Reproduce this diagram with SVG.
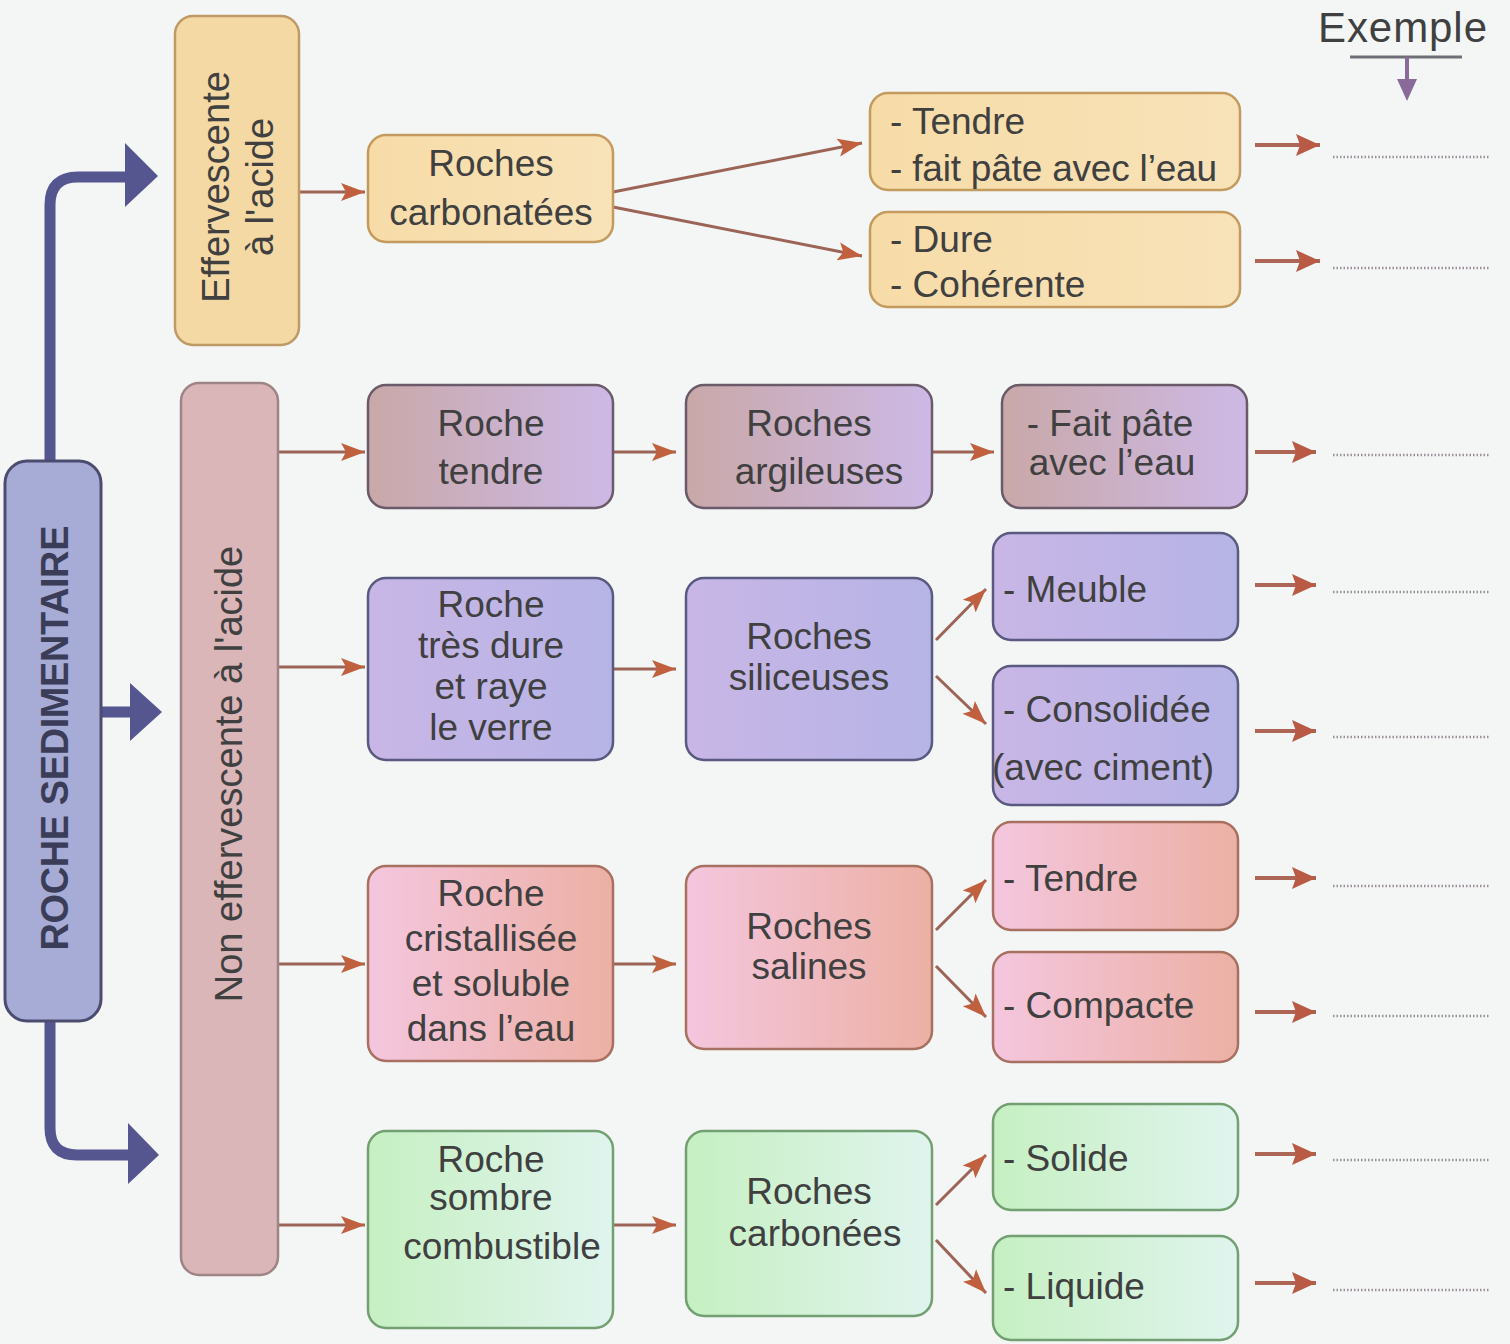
<svg xmlns="http://www.w3.org/2000/svg" width="1510" height="1344" viewBox="0 0 1510 1344">
  <style>
    .t { font-family: "Liberation Sans", Arial, sans-serif; font-size: 37px; fill: #404040; }
    .c { text-anchor: middle; }
    .ln { stroke: #9c6456; stroke-width: 3; fill: none; }
    .ex { stroke: #ad6655; stroke-width: 4; fill: none; }
    .dot { stroke: #9a8f9a; stroke-width: 2.5; stroke-dasharray: 1.5 2; fill: none; }
    .main { stroke: #555590; stroke-width: 11; fill: none; stroke-linejoin: round; }
    .head { fill: #555590; }
  </style>
  <defs>
    <marker id="ah" markerUnits="userSpaceOnUse" markerWidth="26" markerHeight="20" refX="24" refY="10" orient="auto">
      <path d="M0,1 L24,10 L0,19 L5,10 z" fill="#c0603e"/>
    </marker>
    <marker id="ah2" markerUnits="userSpaceOnUse" markerWidth="26" markerHeight="24" refX="24" refY="12" orient="auto">
      <path d="M0,1 L24,12 L0,23 L4,12 z" fill="#b85a44"/>
    </marker>
    <linearGradient id="gTan" x1="0" y1="0" x2="1" y2="0">
      <stop offset="0" stop-color="#f7dca8"/>
      <stop offset="1" stop-color="#f8e2b8"/>
    </linearGradient>
    <linearGradient id="gClay" x1="0" y1="0" x2="1" y2="0">
      <stop offset="0" stop-color="#c9a8a8"/>
      <stop offset="1" stop-color="#cdb9e6"/>
    </linearGradient>
    <linearGradient id="gSil" x1="0" y1="0" x2="1" y2="0">
      <stop offset="0" stop-color="#c8b6e6"/>
      <stop offset="1" stop-color="#b6b4e6"/>
    </linearGradient>
    <linearGradient id="gSalt" x1="0" y1="0" x2="1" y2="0">
      <stop offset="0" stop-color="#f4c6de"/>
      <stop offset="1" stop-color="#ecb0a4"/>
    </linearGradient>
    <linearGradient id="gCarb" x1="0" y1="0" x2="1" y2="0">
      <stop offset="0" stop-color="#c6f0c2"/>
      <stop offset="1" stop-color="#e0f4ee"/>
    </linearGradient>
  </defs>

  <rect width="1510" height="1344" fill="#f3f6f5"/>

  <!-- connectors -->
  <g id="connectors">
    <!-- main purple branches -->
    <path class="main" d="M50,465 V205 Q50,177 78,177 H130"/>
    <polygon class="head" points="125,143 158,176 125,207"/>
    <path class="main" d="M100,712 H135"/>
    <polygon class="head" points="130,683 162,712 130,741"/>
    <path class="main" d="M50,1018 V1128 Q50,1155 77,1155 H132"/>
    <polygon class="head" points="128,1123 159,1155 128,1184"/>

    <!-- carbonate branch -->
    <line class="ln" x1="299" y1="192" x2="365" y2="192" marker-end="url(#ah)"/>
    <line class="ln" x1="613" y1="192" x2="862" y2="143" marker-end="url(#ah)"/>
    <line class="ln" x1="613" y1="207" x2="862" y2="256" marker-end="url(#ah)"/>

    <!-- clay row -->
    <line class="ln" x1="278" y1="452" x2="365" y2="452" marker-end="url(#ah)"/>
    <line class="ln" x1="613" y1="452" x2="676" y2="452" marker-end="url(#ah)"/>
    <line class="ln" x1="932" y1="452" x2="994" y2="452" marker-end="url(#ah)"/>

    <!-- siliceous row -->
    <line class="ln" x1="278" y1="667" x2="365" y2="667" marker-end="url(#ah)"/>
    <line class="ln" x1="613" y1="669" x2="676" y2="669" marker-end="url(#ah)"/>
    <line class="ln" x1="936" y1="640" x2="986" y2="589" marker-end="url(#ah)"/>
    <line class="ln" x1="936" y1="676" x2="986" y2="724" marker-end="url(#ah)"/>

    <!-- saline row -->
    <line class="ln" x1="278" y1="964" x2="365" y2="964" marker-end="url(#ah)"/>
    <line class="ln" x1="613" y1="964" x2="676" y2="964" marker-end="url(#ah)"/>
    <line class="ln" x1="936" y1="930" x2="986" y2="880" marker-end="url(#ah)"/>
    <line class="ln" x1="936" y1="966" x2="986" y2="1017" marker-end="url(#ah)"/>

    <!-- carbon row -->
    <line class="ln" x1="278" y1="1225" x2="365" y2="1225" marker-end="url(#ah)"/>
    <line class="ln" x1="613" y1="1225" x2="676" y2="1225" marker-end="url(#ah)"/>
    <line class="ln" x1="936" y1="1205" x2="986" y2="1155" marker-end="url(#ah)"/>
    <line class="ln" x1="936" y1="1240" x2="986" y2="1293" marker-end="url(#ah)"/>

    <!-- example arrows and answer lines -->
    <line class="ex" x1="1255" y1="145" x2="1320" y2="145" marker-end="url(#ah2)"/>
    <line class="ex" x1="1255" y1="261" x2="1320" y2="261" marker-end="url(#ah2)"/>
    <line class="ex" x1="1255" y1="452" x2="1316" y2="452" marker-end="url(#ah2)"/>
    <line class="ex" x1="1255" y1="585" x2="1316" y2="585" marker-end="url(#ah2)"/>
    <line class="ex" x1="1255" y1="731" x2="1316" y2="731" marker-end="url(#ah2)"/>
    <line class="ex" x1="1255" y1="878" x2="1316" y2="878" marker-end="url(#ah2)"/>
    <line class="ex" x1="1255" y1="1012" x2="1316" y2="1012" marker-end="url(#ah2)"/>
    <line class="ex" x1="1255" y1="1154" x2="1316" y2="1154" marker-end="url(#ah2)"/>
    <line class="ex" x1="1255" y1="1283" x2="1316" y2="1283" marker-end="url(#ah2)"/>

    <line class="dot" x1="1333" y1="157" x2="1490" y2="157"/>
    <line class="dot" x1="1333" y1="268" x2="1490" y2="268"/>
    <line class="dot" x1="1333" y1="455" x2="1490" y2="455"/>
    <line class="dot" x1="1333" y1="592" x2="1490" y2="592"/>
    <line class="dot" x1="1333" y1="737" x2="1490" y2="737"/>
    <line class="dot" x1="1333" y1="886" x2="1490" y2="886"/>
    <line class="dot" x1="1333" y1="1016" x2="1490" y2="1016"/>
    <line class="dot" x1="1333" y1="1160" x2="1490" y2="1160"/>
    <line class="dot" x1="1333" y1="1290" x2="1490" y2="1290"/>
  </g>

  <!-- column header -->
  <g id="exemple">
    <text class="t" x="1318" y="42" style="font-size:42px" textLength="169">Exemple</text>
    <line x1="1350" y1="57" x2="1462" y2="57" stroke="#6f6f78" stroke-width="3"/>
    <line x1="1407" y1="57" x2="1407" y2="82" stroke="#8a6a9a" stroke-width="4"/>
    <polygon points="1397,79 1417,79 1407,101" fill="#8a6a9a"/>
  </g>

  <!-- root -->
  <g id="roche-sedimentaire">
    <rect x="5" y="461" width="96" height="560" rx="22" fill="#a7acd6" stroke="#4c4c70" stroke-width="3"/>
    <text class="t c" transform="translate(68,738) rotate(-90)" style="font-weight:bold;font-size:38px;fill:#3a3c58" textLength="425">ROCHE SEDIMENTAIRE</text>
  </g>

  <!-- acid test branches -->
  <g id="effervescente">
    <rect x="175" y="16" width="124" height="329" rx="18" fill="#f5d9a4" stroke="#bf9a66" stroke-width="2.5"/>
    <text class="t c" transform="translate(229,187) rotate(-90)" style="font-size:38px">Effervescente</text>
    <text class="t c" transform="translate(273,187) rotate(-90)" style="font-size:38px">à l'acide</text>
  </g>
  <g id="non-effervescente">
    <rect x="181" y="383" width="97" height="892" rx="18" fill="#dab6b9" stroke="#9e8486" stroke-width="2.5"/>
    <text class="t c" transform="translate(242,774) rotate(-90)" style="font-size:38px">Non effervescente à l'acide</text>
  </g>

  <!-- carbonate rocks -->
  <g id="roches-carbonatees">
    <rect x="368" y="135" width="245" height="107" rx="18" fill="url(#gTan)" stroke="#c49a5e" stroke-width="2.5"/>
    <text class="t c" x="491" y="176">Roches</text>
    <text class="t c" x="491" y="225">carbonatées</text>
  </g>
  <g id="carb-tendre">
    <rect x="870" y="93" width="370" height="97" rx="18" fill="url(#gTan)" stroke="#c49a5e" stroke-width="2.5"/>
    <text class="t" x="890" y="134">- Tendre</text>
    <text class="t" x="890" y="181" textLength="327">- fait pâte avec l’eau</text>
  </g>
  <g id="carb-dure">
    <rect x="870" y="212" width="370" height="95" rx="18" fill="url(#gTan)" stroke="#c49a5e" stroke-width="2.5"/>
    <text class="t" x="890" y="252">- Dure</text>
    <text class="t" x="890" y="297">- Cohérente</text>
  </g>

  <!-- clay rocks -->
  <g id="roche-tendre">
    <rect x="368" y="385" width="245" height="123" rx="18" fill="url(#gClay)" stroke="#6a5a6a" stroke-width="2.5"/>
    <text class="t c" x="491" y="436">Roche</text>
    <text class="t c" x="491" y="484">tendre</text>
  </g>
  <g id="roches-argileuses">
    <rect x="686" y="385" width="246" height="123" rx="18" fill="url(#gClay)" stroke="#6a5a6a" stroke-width="2.5"/>
    <text class="t c" x="809" y="436">Roches</text>
    <text class="t c" x="819" y="484">argileuses</text>
  </g>
  <g id="fait-pate">
    <rect x="1002" y="385" width="245" height="123" rx="18" fill="url(#gClay)" stroke="#6a5a6a" stroke-width="2.5"/>
    <text class="t c" x="1110" y="436">- Fait pâte</text>
    <text class="t c" x="1112" y="475">avec l’eau</text>
  </g>

  <!-- siliceous rocks -->
  <g id="roche-tres-dure">
    <rect x="368" y="578" width="245" height="182" rx="18" fill="url(#gSil)" stroke="#5a5a80" stroke-width="2.5"/>
    <text class="t c" x="491" y="617">Roche</text>
    <text class="t c" x="491" y="658">très dure</text>
    <text class="t c" x="491" y="699">et raye</text>
    <text class="t c" x="491" y="740">le verre</text>
  </g>
  <g id="roches-siliceuses">
    <rect x="686" y="578" width="246" height="182" rx="18" fill="url(#gSil)" stroke="#5a5a80" stroke-width="2.5"/>
    <text class="t c" x="809" y="649">Roches</text>
    <text class="t c" x="809" y="690">siliceuses</text>
  </g>
  <g id="meuble">
    <rect x="993" y="533" width="245" height="107" rx="18" fill="url(#gSil)" stroke="#5a5a80" stroke-width="2.5"/>
    <text class="t" x="1003" y="602">- Meuble</text>
  </g>
  <g id="consolidee">
    <rect x="993" y="666" width="245" height="139" rx="18" fill="url(#gSil)" stroke="#5a5a80" stroke-width="2.5"/>
    <text class="t" x="1003" y="722">- Consolidée</text>
    <text class="t" x="992" y="780">(avec ciment)</text>
  </g>

  <!-- saline rocks -->
  <g id="roche-cristallisee">
    <rect x="368" y="866" width="245" height="195" rx="18" fill="url(#gSalt)" stroke="#a87060" stroke-width="2.5"/>
    <text class="t c" x="491" y="906">Roche</text>
    <text class="t c" x="491" y="951">cristallisée</text>
    <text class="t c" x="491" y="996">et soluble</text>
    <text class="t c" x="491" y="1041">dans l’eau</text>
  </g>
  <g id="roches-salines">
    <rect x="686" y="866" width="246" height="183" rx="18" fill="url(#gSalt)" stroke="#a87060" stroke-width="2.5"/>
    <text class="t c" x="809" y="939">Roches</text>
    <text class="t c" x="809" y="979">salines</text>
  </g>
  <g id="sal-tendre">
    <rect x="993" y="822" width="245" height="108" rx="18" fill="url(#gSalt)" stroke="#a87060" stroke-width="2.5"/>
    <text class="t" x="1003" y="891">- Tendre</text>
  </g>
  <g id="compacte">
    <rect x="993" y="952" width="245" height="110" rx="18" fill="url(#gSalt)" stroke="#a87060" stroke-width="2.5"/>
    <text class="t" x="1003" y="1018">- Compacte</text>
  </g>

  <!-- carbon rocks -->
  <g id="roche-sombre">
    <rect x="368" y="1131" width="245" height="197" rx="18" fill="url(#gCarb)" stroke="#72a072" stroke-width="2.5"/>
    <text class="t c" x="491" y="1172">Roche</text>
    <text class="t c" x="491" y="1210">sombre</text>
    <text class="t c" x="502" y="1259">combustible</text>
  </g>
  <g id="roches-carbonees">
    <rect x="686" y="1131" width="246" height="185" rx="18" fill="url(#gCarb)" stroke="#72a072" stroke-width="2.5"/>
    <text class="t c" x="809" y="1204">Roches</text>
    <text class="t c" x="815" y="1246">carbonées</text>
  </g>
  <g id="solide">
    <rect x="993" y="1104" width="245" height="106" rx="18" fill="url(#gCarb)" stroke="#72a072" stroke-width="2.5"/>
    <text class="t" x="1003" y="1171">- Solide</text>
  </g>
  <g id="liquide">
    <rect x="993" y="1236" width="245" height="104" rx="18" fill="url(#gCarb)" stroke="#72a072" stroke-width="2.5"/>
    <text class="t" x="1003" y="1299">- Liquide</text>
  </g>
</svg>
